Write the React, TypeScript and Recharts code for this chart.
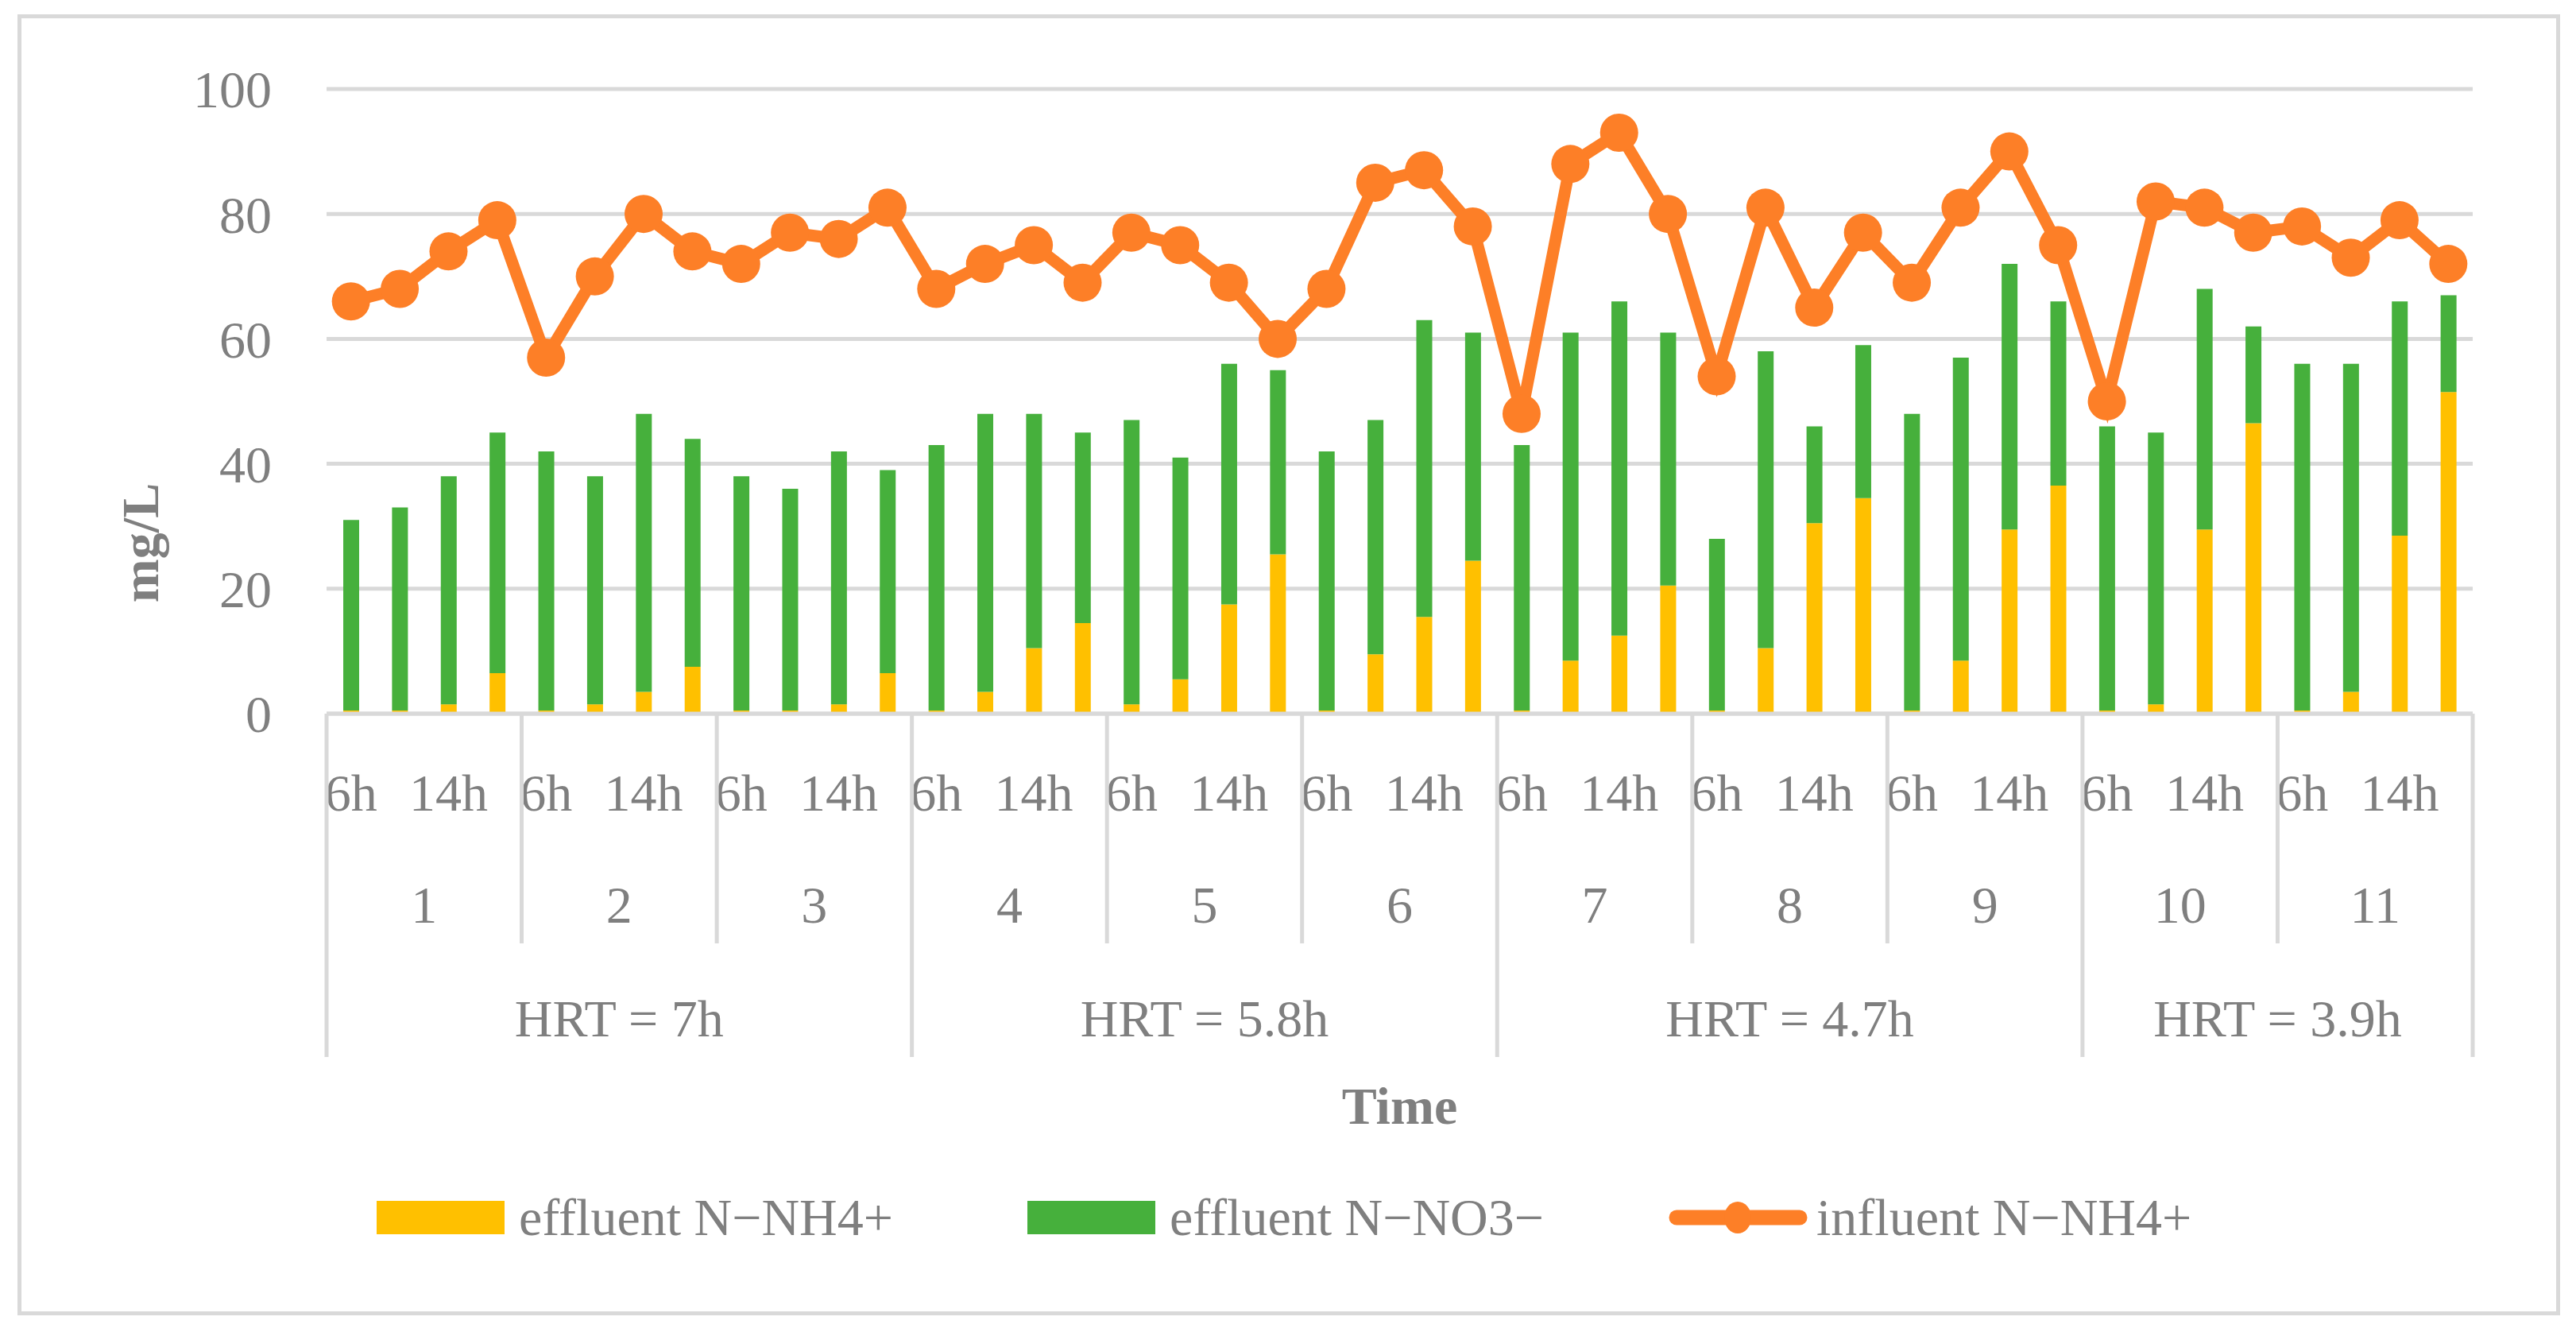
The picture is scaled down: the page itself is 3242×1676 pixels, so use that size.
import React from 'react';
import { ComposedChart, Bar, Line, XAxis, YAxis, CartesianGrid, Legend } from 'recharts';

// categories
const sampleHours = ['6h', '10h', '14h', '18h'];
const days = ['1', '2', '3', '4', '5', '6', '7', '8', '9', '10', '11'];
const dayHrt = [
  'HRT = 7h', 'HRT = 7h', 'HRT = 7h',
  'HRT = 5.8h', 'HRT = 5.8h', 'HRT = 5.8h',
  'HRT = 4.7h', 'HRT = 4.7h', 'HRT = 4.7h',
  'HRT = 3.9h', 'HRT = 3.9h',
];

// series values (mg/L), 4 samples per day
const effluentNH4 = [
  0.5, 0.5, 1.5, 6.5, 0.5, 1.5, 3.5, 7.5, 0.5, 0.5, 1.5, 6.5,
  0.5, 3.5, 10.5, 14.5, 1.5, 5.5, 17.5, 25.5, 0.5, 9.5, 15.5, 24.5,
  0.5, 8.5, 12.5, 20.5, 0.5, 10.5, 30.5, 34.5, 0.5, 8.5, 29.5, 36.5,
  0.5, 1.5, 29.5, 46.5, 0.5, 3.5, 28.5, 51.5,
];
const effluentNO3 = [
  30.5, 32.5, 36.5, 38.5, 41.5, 36.5, 44.5, 36.5, 37.5, 35.5, 40.5, 32.5,
  42.5, 44.5, 37.5, 30.5, 45.5, 35.5, 38.5, 29.5, 41.5, 37.5, 47.5, 36.5,
  42.5, 52.5, 53.5, 40.5, 27.5, 47.5, 15.5, 24.5, 47.5, 48.5, 42.5, 29.5,
  45.5, 43.5, 38.5, 15.5, 55.5, 52.5, 37.5, 15.5,
];
const influentNH4 = [
  66, 68, 74, 79, 57, 70, 80, 74, 72, 77, 76, 81,
  68, 72, 75, 69, 77, 75, 69, 60, 68, 85, 87, 78,
  48, 88, 93, 80, 54, 81, 65, 77, 69, 81, 90, 75,
  50, 82, 81, 77, 78, 73, 79, 72,
];
const yTicks = [0, 20, 40, 60, 80, 100];

const W = 3242;
const H = 1676;
const MARGIN = { top: 112, right: 130, bottom: 102, left: 0 };
const Y_AXIS_W = 411;
const PLOT_W = W - MARGIN.left - MARGIN.right - Y_AXIS_W;

const TEXT = '#7f7f7f';
const RULE = '#d9d9d9';
const YELLOW = '#ffc000';
const GREEN = '#46b03c';
const ORANGE = '#fd7f27';
const FONT = '"Liberation Serif", "Times New Roman", serif';
const FS = 66;

const data = effluentNH4.map((v, i) => {
  const d = Math.floor(i / sampleHours.length);
  return {
    id: `${days[d]}-${sampleHours[i % sampleHours.length]}`,
    hour: sampleHours[i % sampleHours.length],
    day: days[d],
    hrt: dayHrt[d],
    nh4: v,
    no3: effluentNO3[i],
    inf: influentNH4[i],
  };
});

function CategoryTick(props: any) {
  const { x, y, index } = props;
  const row = data[index];
  if (!row) return null;
  const bw = PLOT_W / data.length;
  const left = x - bw / 2;
  const pos = index % sampleHours.length;
  const dayStart = index === 0 || data[index - 1].day !== row.day;
  const hrtStart = index === 0 || data[index - 1].hrt !== row.hrt;
  const daySize = data.filter((d) => d.day === row.day).length;
  const hrtSize = data.filter((d) => d.hrt === row.hrt).length;
  const last = index === data.length - 1;
  const txt = { fontFamily: FONT, fontSize: FS, fill: TEXT, textAnchor: 'middle' as const };
  return (
    <g>
      {pos % 2 === 0 && (
        <text x={x} y={y + 122} {...txt}>{row.hour}</text>
      )}
      {dayStart && (
        <line x1={left} x2={left} y1={y} y2={y + (hrtStart ? 432 : 289)} stroke={RULE} strokeWidth={5} />
      )}
      {dayStart && (
        <text x={left + (daySize * bw) / 2} y={y + 263} {...txt}>{row.day}</text>
      )}
      {hrtStart && (
        <text x={left + (hrtSize * bw) / 2} y={y + 406} {...txt}>{row.hrt}</text>
      )}
      {last && (
        <line x1={x + bw / 2} x2={x + bw / 2} y1={y} y2={y + 432} stroke={RULE} strokeWidth={5} />
      )}
    </g>
  );
}

const itemWidths = [819, 807, undefined];

function LegendContent(props: any) {
  const { payload = [] } = props;
  return (
    <div
      style={{
        display: 'flex',
        alignItems: 'center',
        height: 84,
        paddingLeft: 474,
        fontFamily: FONT,
        fontSize: FS,
        color: TEXT,
        whiteSpace: 'nowrap',
      }}
    >
      {payload.map((p: any, i: number) => (
        <div key={i} style={{ display: 'flex', alignItems: 'center', width: itemWidths[i] }}>
          {p.type === 'line' ? (
            <svg width={175} height={44} style={{ marginRight: 11 }}>
              <line x1={10} x2={165} y1={22} y2={22} stroke={p.color} strokeWidth={19} strokeLinecap="round" />
              <ellipse cx={87} cy={22} rx={17} ry={20} fill={p.color} />
            </svg>
          ) : (
            <span style={{ display: 'inline-block', width: 161, height: 42, background: p.color, marginRight: 18 }} />
          )}
          <span>{p.value}</span>
        </div>
      ))}
    </div>
  );
}

export default function App() {
  return (
    <div style={{ position: 'absolute', left: 0, top: 0, width: W, height: H, background: '#fff' }}>
      <div
        style={{
          position: 'absolute',
          left: 22,
          top: 18,
          width: 3200,
          height: 1637,
          border: `5px solid ${RULE}`,
          boxSizing: 'border-box',
        }}
      />
      <div style={{ position: 'absolute', left: 0, top: 0 }}>
        <ComposedChart width={W} height={H} data={data} margin={MARGIN}>
          <CartesianGrid vertical={false} stroke={RULE} strokeWidth={5} />
          <XAxis
            dataKey="id"
            interval={0}
            height={592}
            tickLine={false}
            tickSize={0}
            tickMargin={0}
            axisLine={{ stroke: RULE, strokeWidth: 5 }}
            tick={(p: any) => <CategoryTick {...p} />}
            label={{
              content: (p: any) => {
                const vb = p.viewBox || {};
                return (
                  <text
                    x={vb.x + vb.width / 2}
                    y={vb.y + 516}
                    textAnchor="middle"
                    fontFamily={FONT}
                    fontSize={FS}
                    fontWeight="bold"
                    fill={TEXT}
                  >
                    Time
                  </text>
                );
              },
            }}
          />
          <YAxis
            width={Y_AXIS_W}
            domain={[0, 100]}
            ticks={yTicks}
            tickLine={false}
            axisLine={false}
            tickSize={0}
            tickMargin={69}
            tick={{ fontFamily: FONT, fontSize: FS, fill: TEXT }}
            label={{
              content: (p: any) => {
                const vb = p.viewBox || {};
                const cx = vb.x + 176;
                const cy = 683;
                return (
                  <text
                    x={cx}
                    y={cy}
                    transform={`rotate(-90 ${cx} ${cy})`}
                    textAnchor="middle"
                    dominantBaseline="central"
                    fontFamily={FONT}
                    fontSize={FS}
                    fontWeight="bold"
                    fill={TEXT}
                  >
                    mg/L
                  </text>
                );
              },
            }}
          />
          <Legend
            verticalAlign="bottom"
            wrapperStyle={{ left: 0, width: W, height: 84 }}
            content={(p: any) => <LegendContent {...p} />}
          />
          <Bar dataKey="nh4" name="effluent N−NH4+" stackId="a" fill={YELLOW} barSize={20} isAnimationActive={false} />
          <Bar dataKey="no3" name="effluent N−NO3−" stackId="a" fill={GREEN} barSize={20} isAnimationActive={false} />
          <Line
            dataKey="inf"
            name="influent N−NH4+"
            type="linear"
            stroke={ORANGE}
            strokeWidth={15}
            dot={{ r: 24, fill: ORANGE, stroke: ORANGE, strokeWidth: 0 }}
            activeDot={false}
            isAnimationActive={false}
          />
        </ComposedChart>
      </div>
    </div>
  );
}
